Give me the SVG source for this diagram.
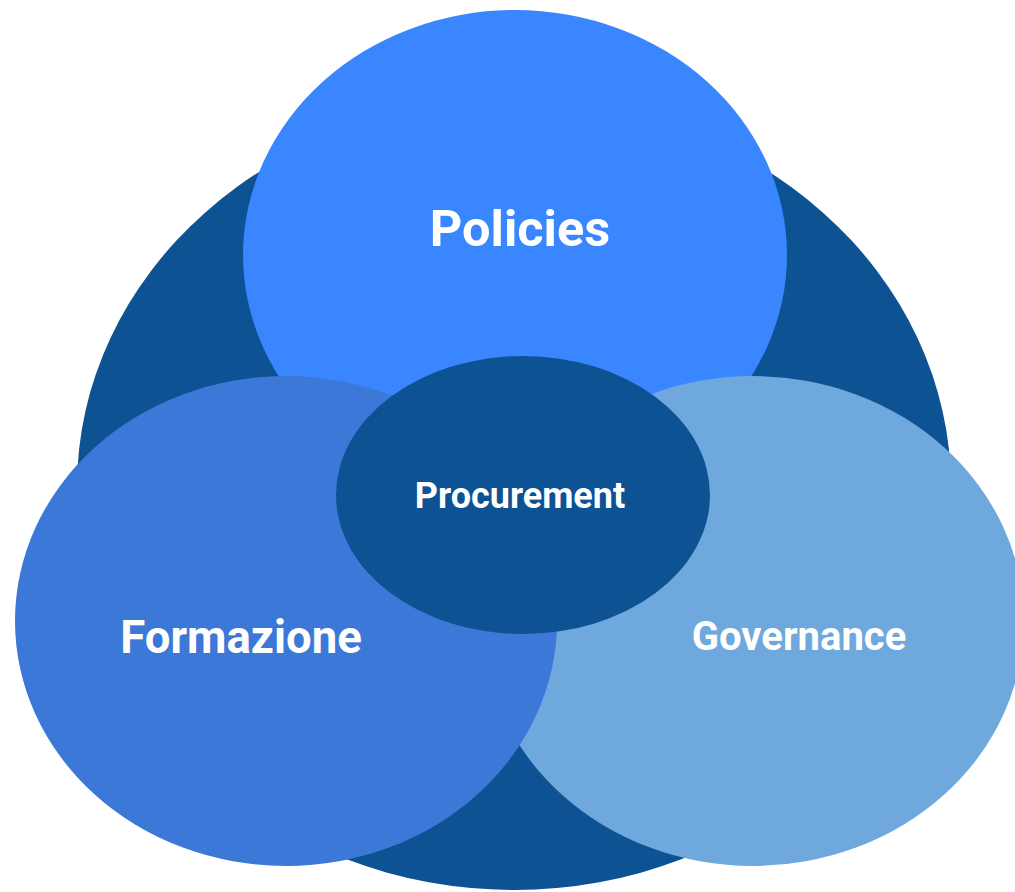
<svg xmlns="http://www.w3.org/2000/svg" width="1015" height="892" viewBox="0 0 1015 892">
<style>
.lbl{font-family:Roboto,"Liberation Sans",sans-serif;font-weight:bold;fill:#ffffff;text-anchor:middle}
</style>
<rect width="1015" height="892" fill="#ffffff"/>
<g id="background">
<path d="M77,487 A437,388 0 0 1 951,487 A437,403 0 0 1 77,487 Z" fill="#0D5293"/>
</g>
<g id="policies">
<ellipse cx="515" cy="255" rx="272" ry="245" fill="#3A86FF"/>
<text class="lbl" x="520" y="246" font-size="50.5">Policies</text>
</g>
<g id="governance">
<ellipse cx="753" cy="621" rx="271" ry="245" fill="#6FA8DC"/>
<text class="lbl" x="799" y="650" font-size="40">Governance</text>
</g>
<g id="formazione">
<ellipse cx="286" cy="621" rx="271" ry="245" fill="#3C78D8"/>
<text class="lbl" x="241" y="653" font-size="45.5">Formazione</text>
</g>
<g id="procurement">
<ellipse cx="523" cy="495" rx="187" ry="139" fill="#0D5293"/>
<text class="lbl" x="520" y="508" font-size="36">Procurement</text>
</g>
<g id="connectors"/>
</svg>
